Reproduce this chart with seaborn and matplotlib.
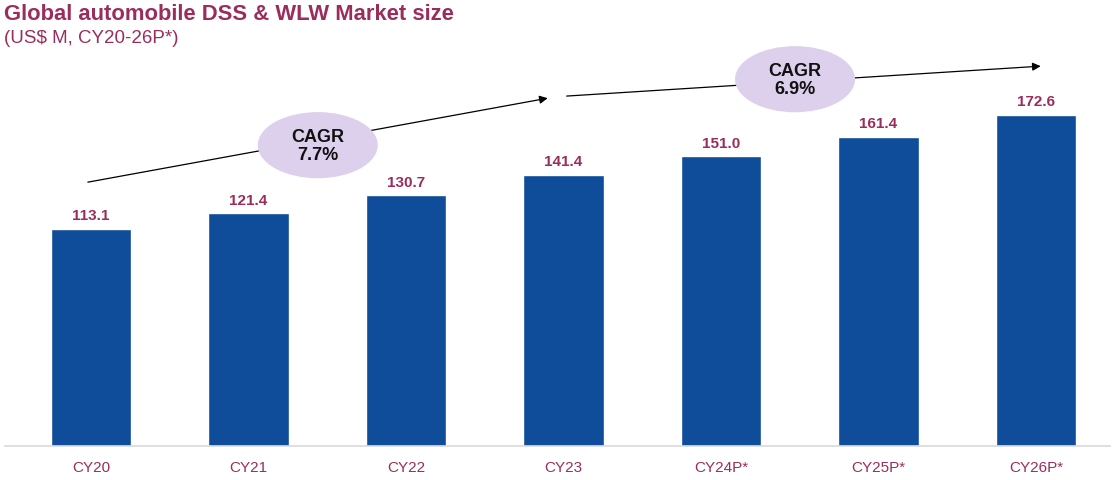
import matplotlib
matplotlib.use("Agg")
import matplotlib.pyplot as plt
from matplotlib.patches import Ellipse
import seaborn as sns
import pandas as pd

# chart data
years = ["CY20", "CY21", "CY22", "CY23", "CY24P*", "CY25P*", "CY26P*"]
market_size = [113.1, 121.4, 130.7, 141.4, 151.0, 161.4, 172.6]
cagr_labels = ["CAGR\n7.7%", "CAGR\n6.9%"]

bar_color = "#0f4c9a"
maroon = "#9b2d5c"

sns.set_style("white")
plt.rcParams["font.family"] = ["Liberation Sans", "DejaVu Sans"]

df = pd.DataFrame({"year": years, "size": market_size})

fig = plt.figure(figsize=(11.14, 4.81), dpi=100)
ax = fig.add_axes([5 / 1114, 34 / 481, 1105 / 1114, 441 / 481])

sns.barplot(data=df, x="year", y="size", color=bar_color, width=0.51,
            saturation=1, ax=ax)

for i, v in enumerate(market_size):
    ax.text(i, v + 3.5, f"{v:.1f}", ha="center", va="bottom",
            fontsize=11, fontweight="bold", color=maroon)

ax.set_xlim(-0.546, 6.47)
ax.set_ylim(0, 230)
ax.set_xlabel("")
ax.set_ylabel("")
ax.set_yticks([])
for s in ["top", "right", "left"]:
    ax.spines[s].set_visible(False)
ax.spines["bottom"].set_color("#d9d9d9")
ax.spines["bottom"].set_linewidth(1.2)
ax.tick_params(axis="x", length=0, pad=10, labelsize=11, labelcolor=maroon)

# CAGR arrows and bubbles
arrows = [((-0.02, 137.6), (2.90, 181.4)), ((3.02, 182.5), (6.03, 198.1))]
bubbles = [(1.44, 156.9), (4.47, 191.3)]
for (start, end), (cx, cy), lab in zip(arrows, bubbles, cagr_labels):
    ax.annotate("", xy=end, xytext=start,
                arrowprops=dict(arrowstyle="-|>", color="black", lw=0.9,
                                mutation_scale=12, shrinkA=0, shrinkB=0))
    ax.add_patch(Ellipse((cx, cy), 0.762, 34.5, facecolor="#ddd0ec",
                         edgecolor="none", zorder=3))
    ax.text(cx, cy, lab, ha="center", va="center", fontsize=13,
            fontweight="bold", color="#111111", zorder=4, linespacing=1.1)

fig.text(0.004, 0.970, "Global automobile DSS & WLW Market size",
         fontsize=15.8, fontweight="bold", color=maroon, va="center")
fig.text(0.004, 0.920, "(US$ M, CY20-26P*)", fontsize=13.5,
         color=maroon, va="center")

fig.savefig("out.png", dpi=100)
